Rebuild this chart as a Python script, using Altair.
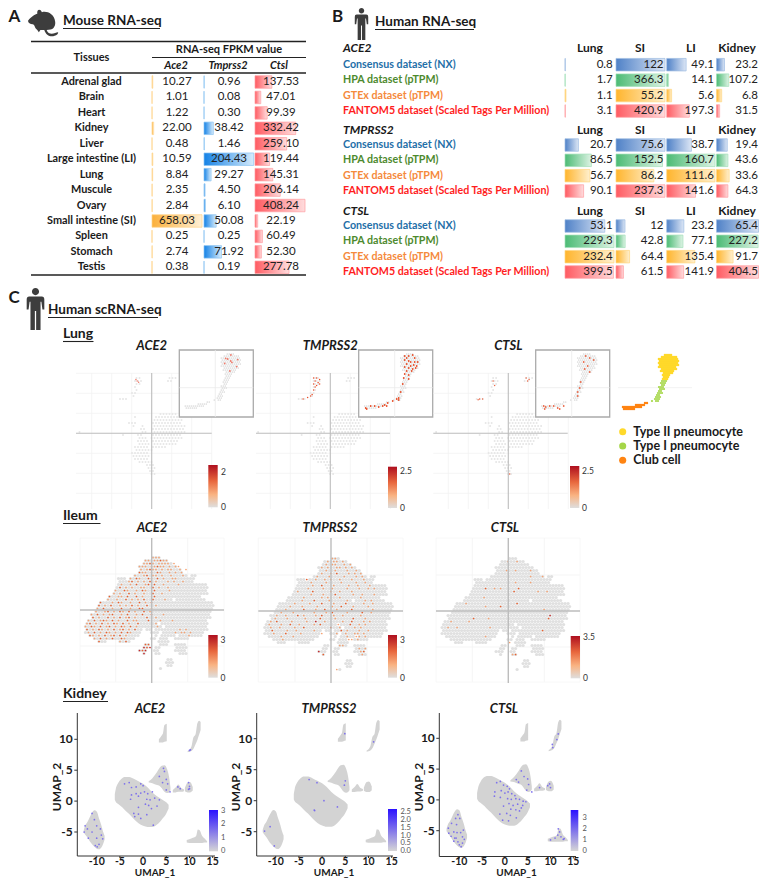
import altair as alt
import pandas as pd

FONT = "Lato"
DARK = "#1a1a1a"

# ---------- Panel A values ----------
TISSUES = ["Adrenal glad", "Brain", "Heart", "Kidney", "Liver", "Large intestine (LI)", "Lung",
           "Muscule", "Ovary", "Small intestine (SI)", "Spleen", "Stomach", "Testis"]
MOUSE_ACE2 = [10.27, 1.01, 1.22, 22.00, 0.48, 10.59, 8.84, 2.35, 2.84, 658.03, 0.25, 2.74, 0.38]
MOUSE_TMPRSS2 = [0.96, 0.08, 0.30, 38.42, 1.46, 204.43, 29.27, 4.50, 6.10, 50.08, 0.25, 71.92, 0.19]
MOUSE_CTSL = [137.53, 47.01, 99.39, 332.42, 259.10, 119.44, 145.31, 206.14, 408.24, 22.19, 60.49, 52.30, 277.78]

# ---------- Panel B values ----------
DATASETS = ["Consensus dataset (NX)", "HPA dataset (pTPM)", "GTEx dataset (pTPM)",
            "FANTOM5 dataset (Scaled Tags Per Million)"]
B_COLUMNS = ["Lung", "SI", "LI", "Kidney"]
HUMAN_ACE2 = [[0.8, 122, 49.1, 23.2], [1.7, 366.3, 14.1, 107.2], [1.1, 55.2, 5.6, 6.8], [3.1, 420.9, 197.3, 31.5]]
HUMAN_TMPRSS2 = [[20.7, 75.6, 38.7, 19.4], [86.5, 152.5, 160.7, 43.6], [56.7, 86.2, 111.6, 33.6], [90.1, 237.3, 141.6, 64.3]]
HUMAN_CTSL = [[53.1, 12, 23.2, 65.4], [229.3, 42.8, 77.1, 227.2], [232.4, 64.4, 135.4, 91.7], [399.5, 61.5, 141.9, 404.5]]

# ---------- scRNA maps: rows of occupied column spans ----------
ILEUM_SPANS = {
 7:[(25,27)], 8:[(23,30)], 9:[(22,31)], 10:[(21,33)], 11:[(21,34)], 12:[(21,35)],
 13:[(19,36),(38,39)], 14:[(14,16),(18,37),(38,39)], 15:[(14,16),(17,38)], 16:[(14,38),(39,43)],
 17:[(13,43)], 18:[(13,43)], 19:[(12,43)], 20:[(11,41)], 21:[(10,31),(33,42)],
 22:[(8,45)], 23:[(7,45)], 24:[(7,45)], 25:[(6,44)], 26:[(5,44)], 27:[(5,44)], 28:[(4,43)],
 29:[(3,26),(28,43)], 30:[(3,28),(30,43)], 31:[(3,21),(23,24),(26,43)], 32:[(3,21),(25,27),(29,42)],
 33:[(4,20),(26,26),(28,32),(34,41)], 34:[(6,19),(25,26),(28,30),(33,37)], 35:[(7,9),(14,17),(27,30)],
 36:[(23,24),(28,30),(33,36)], 37:[(22,23),(26,27),(33,36)], 38:[(21,23),(26,27),(33,36)],
 39:[(22,22),(26,27),(34,36)], 41:[(30,31)], 42:[(30,32)], 43:[(30,31)], 44:[(28,28)],
}
ILEUM_ACE2 = {
 7:"                         ooo", 8:"                       oo ooxoo", 9:"                      ooxo oooo o",
 10:"                     ooo ooxoo o oo", 11:"                     o oxoo o oo  o o", 12:"                     xoo o xo  o o o",
 13:"                   o  ox oo o  o   o", 14:"                  o xo  xo x o  oo", 15:"                 ox o o x o   o o  o",
 16:"               o  o x  ox x  o    o", 17:"              x o o  oo  x o  o", 18:"             o  xo  o xo  x    o",
 19:"            o o  x o  o  x  o", 20:"           x  oo x  x o   x", 21:"          o  o  x o o x  x   o",
 22:"        x   o xo  o  x o x", 23:"       x o x  o o x o  x  o", 24:"       o x  o  x  o  xx  o",
 25:"      o  ox o xo x o  x o", 26:"     o x o ox  o x  o x  x   o", 27:"     x o  x o x ox o   x  o",
 28:"    o x oxo x o  x oo   x   o   o", 29:"   ox o x o xo x o  x     o", 30:"   o xo x ox o xo x o      o",
 31:"   x o xo o x ox o x              o o", 32:"    o x o xo o x xo              o oo o", 33:"    xo o x ox x o                    o",
 34:"      o x o x  xo", 35:"       x      o x", 36:"                       xx", 37:"                      rxr",
 38:"                     rxr", 39:"                      r",
}
ILEUM_TMPRSS2 = {
 7:"                         oo", 8:"                        o oo o", 9:"                       o oo  o o",
 10:"                      o o  oo o o", 11:"                       o  o   o  o", 12:"                      o  o x   o o o",
 13:"                    o   o    o   o o", 14:"                 x  o  o o  o   o   o", 15:"                  o    o    o    o  o",
 16:"                   o  x   o    o  o   o", 17:"                 o    o  o    o   o  o o", 18:"              o    x     o  o   o",
 19:"                  o   o   x     o  o   o", 20:"                o     o o   o      o", 21:"               o   x    o     o     o o",
 22:"             o    o   x   o   x     o  o", 23:"           o   o    o    o  x   o    o", 24:"          o     x   o  x   o    x      o",
 25:"        o   o      o   o x    o    x  o", 26:"       o  o   x o   o x   o  o     o", 27:"      o   o     o    x    o     x   o",
 28:"     o x    o    o  r  o     o  x   o o", 29:"    o   o  x  o    o x     o   x  o o", 30:"     o  o    o  x        x  o    o o",
 31:"     x    o  o     o        x o   o  o", 32:"      o   x    o      o    o  o  oo o", 33:"        o   o                 o  oo o",
 34:"         o                     oo o", 36:"                            oo", 37:"                                  o o",
 38:"                     r             ox", 39:"                      x            o", 44:"                           o",
}
ILEUM_CTSL = {
 8:"                         o  o", 11:"                        o  o    o", 13:"                                o   o",
 15:"                           o    o", 17:"                 x  o o     x", 18:"                           x       o  o",
 20:"                 o", 22:"           o                x", 23:"                 o    x", 24:"                                     o",
 26:"                                       r", 27:"             x    o                   x", 28:"      o     o",
 30:"     o  o          o", 31:"                                    x", 33:"                 o", 35:"                         o",
 39:"                          ox",
}
LUNG_SPANS = {
 11:[(25,26),(36,38)], 12:[(25,27),(36,37)], 13:[(25,26)], 14:[(25,25)], 15:[(25,25)], 16:[(24,25)], 17:[(24,24)],
 18:[(20,22)], 23:[(33,38)], 24:[(25,25),(32,39)], 25:[(31,40)], 26:[(23,25),(31,40)], 27:[(24,24),(27,27),(31,41)],
 28:[(27,28),(31,41)], 29:[(6,6),(27,28),(31,41)], 30:[(21,21),(26,27),(31,40)], 31:[(26,28),(30,40)],
 32:[(26,29),(31,39)], 33:[(26,29),(31,38)], 34:[(25,29),(31,35)], 35:[(25,30)], 36:[(24,29)], 37:[(24,29)],
 38:[(25,29)], 39:[(26,30)], 40:[(29,31)], 41:[(29,31)], 42:[(30,31)], 43:[(30,31)],
}
LUNG_ACE2 = [(25.7, 12), (26.2, 12.4), (25.3, 11.5)]
LUNG_TMPRSS2 = [(25, 11), (26, 11), (27, 11.5), (25.5, 12), (26.5, 12.5), (25, 13), (26, 13.5), (27, 13),
                (25.5, 14), (25, 15), (24.5, 16.5), (21.5, 18), (23, 17.5), (24, 17)]
LUNG_CTSL = [(25.5, 12), (21, 18), (22, 18), (20.5, 18.2), (36.5, 11), (37.5, 11.5), (37, 12), (26, 13.5), (31, 43)]
INSET_SPANS = {2:[(24,27)],3:[(22,29)],4:[(21,30)],5:[(21,30)],6:[(21,30)],7:[(21,30)],8:[(21,29)],9:[(22,29)],
 10:[(22,28)],11:[(23,27)],12:[(23,26)],13:[(23,25)],14:[(23,25)],15:[(22,24)],16:[(22,24)],17:[(22,23)],
 18:[(21,23)],19:[(21,23)],20:[(21,22)],21:[(20,22)],22:[(20,21)],23:[(19,21)],24:[(19,21)],25:[(17,17),(19,20)],
 26:[(14,15)],27:[(9,13)],28:[(3,12)],29:[(3,8)]}
INSET_ACE2 = [(25.8,2.5),(22.7,6.7),(24.2,4.5),(25.7,5.5),(29.2,4.8),(28.7,8.3),(25.3,10.5),(23.2,4.2),(26.3,6.2)]
INSET_TMPRSS2 = [(23,3),(24,4),(25,3),(27,2.5),(28,4),(23,5),(25,5.5),(26,6),(28,6),(29.5,6),(24,7),(26,8),(27.5,7.5),
                 (29,8),(23,8.5),(25,9),(27,9.5),(28.5,9),(24,10.5),(26.5,10.5),(23,12),(25,12.5),(22.5,14),(25,14.5),
                 (22,17),(21,21),(20,24),(19,24.5),(20,25),(17,25.5),(14.5,26.5),(14,28),(3.5,29),(6,28),(8,28),
                 (10,28.5),(12,28),(13,27.5),(4,29.5)]
INSET_CTSL = [(25,3),(27,4),(24,6),(29,5),(26,8),(24.5,9.5),(27,11),(22.5,16),(22,19),(21,21),(21,23),
              (4,28),(5,28.5),(7,28),(9,28),(11,29),(12,29.5),(14,28),(4.5,29.5)]
CELL_TYPES = ["Type II pneumocyte", "Type I pneumocyte", "Club cell"]

KIDNEY_BLOBS = {
 "main":[(-6.1,0.2,1.1),(-5.9,-0.1,1.9),(-5.3,-0.5,3),(-4.5,-1,3.7),(-4,-1.4,3.9),(-3,-2.1,3.9),(-2,-2.9,3.6),(-1,-3.6,3.2),(0,-4,2.8),
         (1,-4.2,2.2),(2,-4.2,1.4),(3,-3.8,0.8),(4,-3,0.3),(5,-2,-0.2),(5.5,-1.2,-0.6)],
 "oval":[(-12.8,-5.1,-4.7),(-12.5,-5.4,-4),(-12,-5.9,-3.4),(-11.5,-6.5,-2.6),(-11,-7,-1.9),(-10.5,-7.4,-1.5),(-10,-7.7,-1.7),
         (-9.5,-7.8,-2.8),(-9,-7.5,-3.9),(-8.6,-6.9,-5),(-8.3,-6.2,-5.6)],
 "fan":[(1.2,3,3.2),(2,2.9,3.7),(3,2.6,4.7),(3.5,2.5,5.3),(4,2.1,5.7),(4.6,1.5,5.8),(5.2,1.3,5.1),(5.6,1.4,3.9),(5.9,1.7,2.2)],
 "sat1":[(6.4,1.4,1.8),(7,1.4,2.2),(7.6,1.5,2.7),(8.2,1.5,2.1),(8.8,1.6,1.9)],
 "sat2":[(9,1.6,2.1),(9.6,1.4,3),(10.1,1.4,3.1),(10.7,1.7,2.3)],
 "top":[(3.4,9.5,10),(4,9.5,10.6),(4.3,9.5,11),(4.6,9.6,12.3),(5.1,9.7,12.5)],
 "sliver":[(9.6,7.9,8.1),(10.4,8.1,8.8),(10.8,8.4,10.2),(11.3,9.2,10.8),(11.7,9.9,12.6),(12.1,10.8,13),(12.4,11.5,12.8)],
 "br":[(9.4,-6.7,-6.3),(10.5,-6.8,-6),(11.4,-6.8,-5.7),(11.8,-6.8,-4.6),(12.2,-6.8,-4.7),(12.7,-6.8,-5.6),(13.2,-6.7,-6),(13.8,-6.7,-6.5)],
}
KIDNEY_ACE2 = [(-4,2.8),(-3,3),(-2.5,2.2),(-1.5,2.3),(-0.5,2.8),(0,2.5),(-1.5,1.2),(-2.5,1),(-0.5,1.3),(0.3,1.5),(1,1.2),(2,1.5),
 (-2.7,0.3),(-1,0.8),(0.8,0.3),(1.5,0.2),(2.5,0.5),(3.5,0.2),(0.5,-0.5),(1.2,-0.7),(-1,-1),(-1,-2.1),(-2,-2),(-0.5,-2.8),(0.8,-2.2),
 (2.2,-3.9),(1.8,-1.2),(3,-0.8),(-1.8,-2.5),(-11,-2),(-12.5,-4),(-12.7,-5),(-12,-4.5),(-11.8,-6),(-11,-5),(-10.5,-3),(-10,-4),(-10,-6),
 (-9.5,-7),(-9.2,-4.5),(-9,-5.5),(-8.7,-6.1),(-10.3,-7.2),(-9.9,-7.4),(4.4,5.3),(4.6,4.8),(3.5,4),(4.2,3),(5,3.5),(5.3,2.8),(5,1.8),
 (7.5,2.3),(8,2),(9.8,3),(10,2.4),(9.8,1.9),(10,2),(5.8,1.5),(10,8.2),(10.2,8.3)]
KIDNEY_TMPRSS2 = [(-2.8,3.4),(-1.1,2.9),(0.4,0),(-1.7,-1.5),(3.3,-1),(5,3.2),(4.8,2.5),(4.9,10.8),(11.1,9.5),(-11.2,-4.2),
 (-12.4,-4.9),(-10.3,-7.3),(-1.6,-1.6)]
KIDNEY_CTSL = [(-1.8,2.8),(-1,3),(-0.3,2.4),(0.5,2.2),(1,1.8),(-2.2,1.3),(-0.8,1.5),(0,1.1),(0.7,1.3),(1.5,1),(2.2,0.7),(-2.3,0.6),
 (-1,0.4),(0.6,0.2),(1.4,0.1),(2.4,0.2),(3.2,0.1),(4,-0.2),(4.6,-0.3),(0.9,-0.6),(1.8,-0.9),(2.8,-0.7),(3.9,-0.9),(-0.3,-1),(1.3,-1.5),
 (2.4,-1.6),(3.2,-1.8),(-1.1,-2.3),(0.4,-2.2),(1.2,-2.5),(2.5,-2.9),(0.8,-3.4),(-0.5,-3.3),(3.6,-1.3),(3.6,4.7),(4.2,3.8),(2.5,3.3),(3,2.9),
 (5,3.4),(5.2,2.5),(4.8,1.6),(5.9,1.3),(7.6,2),(9.8,2.6),(10,2),(9.4,2.3),(-11.7,-3.8),(-12.4,-4.6),(-12.3,-5.4),(-11.8,-5.9),(-11.2,-5.2),
 (-11,-6.2),(-10.6,-4),(-10.5,-5.3),(-10.3,-6.8),(-10,-7.3),(-9.6,-7.6),(-9.3,-6),(-9.1,-4.9),(-9.9,-3),(-10.3,-2.4),(-8.9,-6.4),(-9.7,-5.3),
 (-11.2,-6.7),(-10.8,-3),(-9.3,-7),(-10.7,-6.2),(11.7,-4.7),(12,-5.2),(12.3,-6),(11,-6.2),(12.8,-6.4),(10,-6.5),(13,-6.3),(11.6,-5.7),
 (11.7,10.7),(11.4,9.8),(10.5,8.5),(10.4,9)]

# ---------- icons ----------
MOUSE = ("M-1,-0.15 C-0.75,-0.45 -0.55,-0.55 -0.4,-0.6 C-0.45,-0.9 -0.2,-0.95 -0.1,-0.7 C0.2,-0.8 0.7,-0.6 0.75,-0.1 "
         "C0.8,0.15 0.65,0.4 0.45,0.42 L0.2,0.45 C0.3,0.7 0.5,0.75 0.75,0.65 C0.95,0.55 1,0.6 0.9,0.72 C0.6,0.95 0.2,0.9 0.05,0.45 "
         "L-0.2,0.45 L-0.3,0.6 L-0.4,0.45 C-0.6,0.3 -0.55,0.1 -0.7,0.08 C-0.85,0.05 -1,0 -1,-0.15 Z")
HUMAN = ("M-0.17,-0.83 A0.17,0.17 0 1 1 0.17,-0.83 A0.17,0.17 0 1 1 -0.17,-0.83 Z "
         "M-0.3,-0.6 L0.3,-0.6 Q0.42,-0.6 0.42,-0.45 L0.42,0.02 L0.33,0.02 L0.28,-0.35 L0.24,-0.35 L0.24,1 L0.03,1 L0.03,0.1 "
         "L-0.03,0.1 L-0.03,1 L-0.24,1 L-0.24,-0.35 L-0.28,-0.35 L-0.33,0.02 L-0.42,0.02 L-0.42,-0.45 Q-0.42,-0.6 -0.3,-0.6 Z")

layers = []
ONE = pd.DataFrame({"a": [0]})


def P(v):
    return v - 8


def label(text, x, y, size=12, bold=True, italic=False, color=DARK, align="left", angle=0):
    m = dict(font=FONT, fontSize=size, fontWeight="bold" if bold else "normal", fontStyle="italic" if italic else "normal",
             color=color, align=align, baseline="middle")
    if angle:
        m["angle"] = angle
    layers.append(alt.Chart(pd.DataFrame({"t": [text]})).mark_text(**m).encode(
        x=alt.value(P(x)), y=alt.value(P(y)), text="t:N"))


def hline(x0, x1, y, color="#222", w=1.0):
    layers.append(alt.Chart(ONE).mark_rule(color=color, strokeWidth=w).encode(
        x=alt.value(P(x0)), x2=alt.value(P(x1)), y=alt.value(P(y))))


def vline(x, y0, y1, color="#222", w=1.0):
    layers.append(alt.Chart(ONE).mark_rule(color=color, strokeWidth=w).encode(
        x=alt.value(P(x)), y=alt.value(P(y0)), y2=alt.value(P(y1))))


def icon(path, x, y, half):
    layers.append(alt.Chart(ONE).mark_point(shape=path, filled=True, color="#3d3d3d", opacity=1, size=(2 * half) ** 2).encode(
        x=alt.value(P(x)), y=alt.value(P(y))))


def gradient(c0, c1, vertical=False):
    return {"gradient": "linear", "x1": 0, "x2": 0 if vertical else 1, "y1": 1 if vertical else 0, "y2": 0,
            "stops": [{"offset": 0, "color": c0}, {"offset": 1, "color": c1}]}


def heading(text, x, y, size, x1):
    label(text, x, y, size=size)
    hline(x, x1, y + 7.5, "#222", 1.1)


# ---------- Panel A ----------
label("A", 8.5, 17, size=17)
icon(MOUSE, 43.5, 23, 15.5)
heading("Mouse RNA-seq", 63, 21, 13.5, 160)
hline(31, 306, 41.5, "#222", 1.3)
hline(152, 306, 57.5, "#222", 1)
hline(31, 306, 73, "#222", 1.3)
hline(31, 306, 275, "#222", 1.3)
label("Tissues", 91.5, 58, size=11, align="center")
label("RNA-seq FPKM value", 229, 50, size=11, align="center")
A_ROW = alt.Scale(type="band", domain=TISSUES, range=[P(82 - 7.72), P(267.3 + 7.72)], paddingInner=0, paddingOuter=0)
A_COLS = [("Ace2", MOUSE_ACE2, 152, 202, 177, 176, "#FBB03B", "#FFF0D6", "#FFD48A"),
          ("Tmprss2", MOUSE_TMPRSS2, 204, 253.7, 229, 228, "#1582E6", "#D6EBFB", "#8CC4F2"),
          ("Ctsl", MOUSE_CTSL, 255, 305, 281, 279, "#FF5B62", "#FFDCDD", "#FF9EA2")]
for name, vals, x0, x1, xc, xh, c0, c1, cs in A_COLS:
    df = pd.DataFrame({"tissue": TISSUES, "zero": 0.0, "val": vals, "txt": [f"{v:.2f}" for v in vals]})
    xs = alt.Scale(domain=[0, max(vals)], range=[P(x0), P(x1)], nice=False, zero=False)
    layers.append(alt.Chart(df).mark_bar(color=gradient(c0, c1), stroke=cs, strokeWidth=0.7, height=12.5).encode(
        x=alt.X("zero:Q", scale=xs, axis=None), x2="val",
        y=alt.Y("tissue:N", scale=A_ROW, axis=None)))
    layers.append(alt.Chart(df).mark_text(font=FONT, fontSize=11.5, color="#222").encode(
        x=alt.value(P(xc)), y=alt.Y("tissue:N", scale=A_ROW, axis=None), text="txt:N"))
    label(name, xh, 66, size=11, italic=True, align="center")
layers.append(alt.Chart(pd.DataFrame({"tissue": TISSUES})).mark_text(
    font=FONT, fontSize=10.9, fontWeight="bold", color=DARK).encode(
    x=alt.value(P(91.5)), y=alt.Y("tissue:N", scale=A_ROW, axis=None), text="tissue:N"))

# ---------- Panel B ----------
label("B", 332, 17, size=17)
icon(HUMAN, 361.5, 24, 16)
heading("Human RNA-seq", 375, 22, 13.5, 474)
B_TEXT = ["#1F6FA8", "#4E8A2E", "#F58A3C", "#FF1E1E"]
B_BAR = [("#4F81C7", "#DCE6F5", "#9DBBE3"), ("#4CBB75", "#DDF3E4", "#A2DFB8"),
         ("#FFB52E", "#FFF0CF", "#FFD580"), ("#FF5B62", "#FFDCDD", "#FF9EA2")]
B_X = [(565, 614, 612.7, 590), (616, 665, 663.5, 640), (666.7, 715, 714, 691), (716.5, 758.5, 758, 737)]
B_GENES = [("ACE2", HUMAN_ACE2, 48, 64.7, 111), ("TMPRSS2", HUMAN_TMPRSS2, 130, 145, 191), ("CTSL", HUMAN_CTSL, 210.7, 226, 272)]
for gene, table, yh, y0, y1 in B_GENES:
    label(gene, 343, yh, size=12, italic=True)
    step = (y1 - y0) / 3
    ys = alt.Scale(type="band", domain=DATASETS, range=[P(y0 - step / 2), P(y1 + step / 2)], paddingInner=0, paddingOuter=0)
    for c, (cname, (x0, x1, xr, xh)) in enumerate(zip(B_COLUMNS, B_X)):
        label(cname, xh, yh, size=12, align="center")
        for d, ds in enumerate(DATASETS):
            row = table[d]
            df = pd.DataFrame({"ds": [ds], "zero": [0.0], "ratio": [row[c] / max(row)], "txt": [str(row[c])]})
            xs = alt.Scale(domain=[0, 1], range=[P(x0), P(x1)], nice=False, zero=False)
            c0, c1, cs = B_BAR[d]
            layers.append(alt.Chart(df).mark_bar(color=gradient(c0, c1), stroke=cs, strokeWidth=0.7, height=12.5).encode(
                x=alt.X("zero:Q", scale=xs, axis=None), x2="ratio", y=alt.Y("ds:N", scale=ys, axis=None)))
            layers.append(alt.Chart(df).mark_text(font=FONT, fontSize=11.5, color="#222", align="right").encode(
                x=alt.value(P(xr)), y=alt.Y("ds:N", scale=ys, axis=None), text="txt:N"))
    for d, ds in enumerate(DATASETS):
        layers.append(alt.Chart(pd.DataFrame({"ds": [ds]})).mark_text(
            font=FONT, fontSize=10.7, fontWeight="bold", color=B_TEXT[d], align="left").encode(
            x=alt.value(P(343)), y=alt.Y("ds:N", scale=ys, axis=None), text="ds:N"))

# ---------- Panel C helpers ----------
RED_STOPS = [{"offset": 0, "color": "#DEDEDE"}, {"offset": 0.3, "color": "#F9B382"},
             {"offset": 0.62, "color": "#E8673D"}, {"offset": 1, "color": "#AE0F1F"}]
BLUE_STOPS = [{"offset": 0, "color": "#D6D6D6"}, {"offset": 1, "color": "#2A10FF"}]


def colorbar(x0, x1, ybot, ytop, vmax, ticks, stops, xl, size=8.5, color="#333"):
    ys = alt.Scale(domain=[0, vmax], range=[P(ybot), P(ytop)], nice=False, zero=False)
    grad = {"gradient": "linear", "x1": 0, "x2": 0, "y1": 1, "y2": 0, "stops": stops}
    layers.append(alt.Chart(pd.DataFrame({"v0": [0.0], "v1": [vmax]})).mark_rect(color=grad).encode(
        x=alt.value(P(x0)), x2=alt.value(P(x1)), y=alt.Y("v0:Q", scale=ys, axis=None), y2="v1"))
    layers.append(alt.Chart(pd.DataFrame({"v": [t[0] for t in ticks], "t": [t[1] for t in ticks]})).mark_text(
        font=FONT, fontSize=size, color=color, align="left").encode(
        x=alt.value(P(xl)), y=alt.Y("v:Q", scale=ys, axis=None), text="t:N"))


def expand(spans):
    return [(c + (0.5 if r % 2 else 0.0), r) for r, sp in spans.items() for a, b in sp for c in range(a, b + 1)]


def hits(rows):
    out = {"o": [], "x": [], "r": []}
    for r, s in rows.items():
        for c, ch in enumerate(s):
            if ch in out:
                out[ch].append((c + (0.5 if r % 2 else 0.0), r))
    return out


def scatter(pts, xs, ys, color, size, opacity=1.0):
    df = pd.DataFrame(pts, columns=["x", "y"])
    layers.append(alt.Chart(df).mark_circle(color=color, size=size, opacity=opacity).encode(
        x=alt.X("x:Q", scale=xs, axis=None), y=alt.Y("y:Q", scale=ys, axis=None)))


def px_scale(origin_cell, origin_px, px_per_cell):
    lo, hi = origin_cell - 30, origin_cell + 30
    return alt.Scale(domain=[lo, hi], range=[P(origin_px - 30 * px_per_cell), P(origin_px + 30 * px_per_cell)], nice=False, zero=False)


HIT_COL = {"o": "#F6A373", "x": "#E9602F", "r": "#C42A2C"}
GRID = "#F3F3F3"
CROSS = "#BDBDBD"

# ---------- Panel C: lung ----------
label("C", 8.5, 298, size=17)
icon(HUMAN, 35.5, 309, 21)
heading("Human scRNA-seq", 48, 310, 13.5, 158)
heading("Lung", 63, 334, 14, 93.5)
LUNG_P = [("ACE2", 151.7, 76, 211.7, 179.3, LUNG_ACE2, INSET_ACE2, "#F07A6A"),
          ("TMPRSS2", 330.3, 256, 390, 358.7, LUNG_TMPRSS2, INSET_TMPRSS2, "#E9502B"),
          ("CTSL", 508.3, 433.3, 567.7, 535.7, LUNG_CTSL, INSET_CTSL, "#EC6A4A")]
lung_pts = expand(LUNG_SPANS)
inset_pts = expand(INSET_SPANS)
for gene, cx, hx0, hx1, bx, lung_hits, inset_hits, hitcol in LUNG_P:
    label(gene, cx, 346, size=13, italic=True, align="center")
    cy = 433.3
    for k in (-60, -40, -20, 20, 40, 60):
        if 373 < cy + k < 510:
            hline(hx0, hx1, cy + k, GRID, 0.8)
        vline(cx + k, 373, 509, GRID, 0.8)
    xs = px_scale(30.56, cx, 3)
    ys = px_scale(29.4, cy, 3)
    scatter(lung_pts, xs, ys, "#E6E6E6", 4)
    scatter(lung_hits, xs, ys, hitcol, 2.2)
    hline(hx0, hx1, cy, CROSS, 1.1)
    vline(cx, 373, 509, CROSS, 1.1)
    layers.append(alt.Chart(ONE).mark_rect(fill="white", stroke="#ABABAB", strokeWidth=1.3).encode(
        x=alt.value(P(bx)), x2=alt.value(P(bx + 74)), y=alt.value(P(350)), y2=alt.value(P(417))))
    hline(bx, bx + 74, 387.7, "#EBEBEB", 0.8)
    vline(bx + 36, 350, 417, "#EBEBEB", 0.8)
    ixs = alt.Scale(domain=[0, 37], range=[P(bx), P(bx + 74)], nice=False, zero=False)
    iys = alt.Scale(domain=[0, 33.5], range=[P(350), P(417)], nice=False, zero=False)
    scatter(inset_pts, ixs, iys, "#DDDDDD", 2.8)
    scatter(inset_hits, ixs, iys, hitcol, 3.2)
colorbar(208.3, 217.7, 507.3, 465, 2.38, [(2, "2"), (0, "0")], RED_STOPS, 221)
colorbar(388, 397, 508, 466.7, 2.77, [(2.5, "2.5"), (0, "0")], RED_STOPS, 400)
colorbar(570, 579.3, 508, 466, 2.81, [(2.5, "2.5"), (0, "0")], RED_STOPS, 582)

# cell-type overview map and its key
hline(618, 692, 387.7, "#EDEDED", 0.8)
lxs = alt.Scale(domain=[0, 37], range=[P(617), P(691)], nice=False, zero=False)
lys = alt.Scale(domain=[0, 33.5], range=[P(351), P(418)], nice=False, zero=False)
scatter([p for p in inset_pts if p[1] <= 14], lxs, lys, "#FFD92A", 7)
scatter([p for p in inset_pts if 14 < p[1] <= 25], lxs, lys, "#A5D648", 5)
scatter([p for p in inset_pts if p[1] > 25], lxs, lys, "#FF8412", 6)
LEG_COL = ["#FFD92A", "#A5D648", "#FF8412"]
leg_y = alt.Scale(type="band", domain=CELL_TYPES, range=[P(424.5), P(467.5)], paddingInner=0, paddingOuter=0)
layers.append(alt.Chart(pd.DataFrame({"c": CELL_TYPES})).mark_circle(size=50, opacity=1).encode(
    x=alt.value(P(622.7)), y=alt.Y("c:N", scale=leg_y, axis=None),
    color=alt.Color("c:N", scale=alt.Scale(domain=CELL_TYPES, range=LEG_COL), legend=None)))
layers.append(alt.Chart(pd.DataFrame({"c": CELL_TYPES})).mark_text(
    font=FONT, fontSize=12.5, fontWeight="bold", color=DARK, align="left").encode(
    x=alt.value(P(633.3)), y=alt.Y("c:N", scale=leg_y, axis=None), text="c:N"))

# ---------- Panel C: ileum ----------
heading("Ileum", 63, 516, 14, 100.5)
IL_P = [("ACE2", 152, 151.7, 610, 80, 224, ILEUM_ACE2), ("TMPRSS2", 330, 331, 611, 258.3, 403, ILEUM_TMPRSS2),
        ("CTSL", 505, 508.3, 611, 436, 580, ILEUM_CTSL)]
il_pts = expand(ILEUM_SPANS)
for gene, tx, cx, cy, hx0, hx1, rows in IL_P:
    label(gene, tx, 528, size=13, italic=True, align="center")
    for k in (-36, 36):
        hline(hx0, hx1, cy + k, GRID, 0.8)
        vline(cx + k, 538, 682, GRID, 0.8)
    hline(hx0, hx1, 538, "#F6F6F6", 0.8)
    hline(hx0, hx1, 682, "#F6F6F6", 0.8)
    vline(hx0, 538, 682, "#F6F6F6", 0.8)
    vline(hx1, 538, 682, "#F6F6F6", 0.8)
    xs = px_scale(25.07, cx, 3)
    ys = px_scale(24.5, cy, 3)
    scatter(il_pts, xs, ys, "#E0E0E0", 10.5)
    for ch, pts in hits(rows).items():
        if pts:
            scatter(pts, xs, ys, HIT_COL[ch], 3)
    hline(hx0, hx1, cy, CROSS, 1.4)
    vline(cx, 538, 683, CROSS, 1.4)
colorbar(208.3, 217.7, 677.7, 635, 3.4, [(3, "3"), (0, "0")], RED_STOPS, 220.5)
colorbar(388, 397, 677.7, 635, 3.4, [(3, "3"), (0, "0")], RED_STOPS, 400)
colorbar(570.7, 580, 678.3, 636, 3.58, [(3.5, "3.5"), (0, "0")], RED_STOPS, 583)

# ---------- Panel C: kidney ----------
heading("Kidney", 63, 694, 14, 108)
blob_df = pd.DataFrame([(n, x, lo, hi) for n, pts in KIDNEY_BLOBS.items() for x, lo, hi in pts], columns=["blob", "x", "lo", "hi"])
K_P = [("ACE2", 150, KIDNEY_ACE2, 77.3, 215, 96.7, 212.7, 832, 739.3, 713, 856, 155, 57),
       ("TMPRSS2", 329, KIDNEY_TMPRSS2, 256.7, 393, 275.7, 391.7, 831.7, 738.7, 713, 856, 334, 236),
       ("CTSL", 504, KIDNEY_CTSL, 439.3, 576, 459.3, 573.3, 830.7, 738.3, 713, 856.5, 516.5, 419)]
X_TICKS = [-10, -5, 0, 5, 10, 15]
Y_TICKS = [-5, 0, 5, 10]
for gene, tx, pts, left, right, xm10, x15, ym5, y10, top, bot, xlab, ylab in K_P:
    label(gene, tx, 709, size=13, italic=True, align="center")
    xs = alt.Scale(domain=[-10, 15], range=[P(xm10), P(x15)], nice=False, zero=False)
    ys = alt.Scale(domain=[-5, 10], range=[P(ym5), P(y10)], nice=False, zero=False)
    layers.append(alt.Chart(blob_df).mark_area(color="#D3D3D3", interpolate="monotone", opacity=1).encode(
        x=alt.X("x:Q", scale=xs, axis=None), y=alt.Y("lo:Q", scale=ys, axis=None), y2="hi", detail="blob:N"))
    scatter(pts, xs, ys, "#7466EE", 3, 0.9)
    hline(left, right, bot, "#333", 1)
    vline(left, top, bot, "#333", 1)
    dx = pd.DataFrame({"v": X_TICKS, "t": [str(v) for v in X_TICKS]})
    dy = pd.DataFrame({"v": Y_TICKS, "t": [str(v) for v in Y_TICKS]})
    layers.append(alt.Chart(dx).mark_rule(color="#333", strokeWidth=1).encode(
        x=alt.X("v:Q", scale=xs, axis=None), y=alt.value(P(bot)), y2=alt.value(P(bot + 2))))
    layers.append(alt.Chart(dy).mark_rule(color="#333", strokeWidth=1).encode(
        y=alt.Y("v:Q", scale=ys, axis=None), x=alt.value(P(left - 3)), x2=alt.value(P(left))))
    layers.append(alt.Chart(dx).mark_text(font=FONT, fontSize=10.5, fontWeight="bold", color=DARK).encode(
        x=alt.X("v:Q", scale=xs, axis=None), y=alt.value(P(862)), text="t:N"))
    layers.append(alt.Chart(dy).mark_text(font=FONT, fontSize=12, fontWeight="bold", color=DARK, align="right").encode(
        y=alt.Y("v:Q", scale=ys, axis=None), x=alt.value(P(left - 4.5)), text="t:N"))
    label("UMAP_1", xlab, 872.9, size=10, align="center")
    label("UMAP_2", ylab, 787, size=12, align="center", angle=270)
KT = "#555"
colorbar(209, 218, 851.3, 810, 3.05, [(3, "3"), (2, "2"), (1, "1"), (0, "0")], BLUE_STOPS, 221, 7.5, KT)
colorbar(388, 397, 851, 809, 2.71, [(2.5, "2.5"), (2, "2.0"), (1.5, "1.5"), (1, "1.0"), (0.5, "0.5"), (0, "0.0")], BLUE_STOPS, 400.5, 7.5, KT)
colorbar(570.7, 578.3, 851, 810, 3.7, [(3, "3"), (2, "2"), (1, "1"), (0, "0")], BLUE_STOPS, 582.5, 7.5, KT)

chart = alt.layer(*layers).resolve_scale(x="independent", y="independent", color="independent").properties(
    width=751, height=870, padding=0, autosize=alt.AutoSizeParams(type="none")
).configure_view(stroke=None)

chart.save("out.html", embed_options={"renderer": "svg", "actions": False})
